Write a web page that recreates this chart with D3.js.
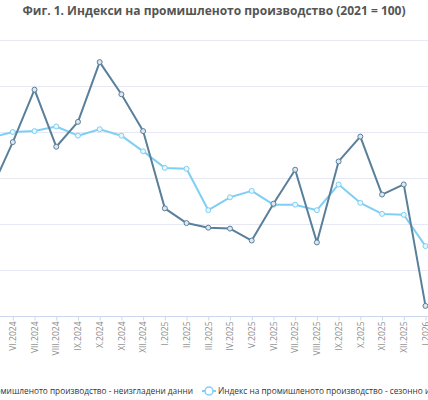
<!DOCTYPE html>
<html>
<head>
<meta charset="utf-8">
<script src="https://cdn.jsdelivr.net/npm/d3@7"></script>
<style>
  body { margin: 0; background: #fff; overflow: hidden; }
  svg { display: block; font-family: "Open Sans", sans-serif; }
</style>
</head>
<body>
<svg id="canvas"></svg>
<script>
let months = ["V.2024","VI.2024","VII.2024","VIII.2024","IX.2024","X.2024","XI.2024","XII.2024",
              "I.2025","II.2025","III.2025","IV.2025","V.2025","VI.2025","VII.2025","VIII.2025",
              "IX.2025","X.2025","XI.2025","XII.2025","I.2026"];

let rawIndex = [83.7,88.9,94.6,88.4,91.1,97.6,94.1,90.1,
                81.7,80.1,79.6,79.5,78.2,82.2,85.9,78.0,
                86.8,89.5,83.2,84.3,71.1];

let adjIndex = [89.4,90.0,90.1,90.6,89.6,90.3,89.6,87.9,
                86.1,86.0,81.5,82.9,83.6,82.1,82.1,81.5,
                84.3,82.3,81.1,81.0,77.6];

let yTicks = [70,75,80,85,90,95,100];

let seriesNames = ["Индекс на промишленото производство - неизгладени данни",
                   "Индекс на промишленото производство - сезонно изгладени данни"];

let width = 428;
let height = 400;
let plotTop = 40;
let plotBottom = 316;

let canvas = d3.select("#canvas")
    .attr("width", width)
    .attr("height", height);

let step = 21.72;
let xScale = d3.scalePoint()
    .domain(months)
    .range([12.8 - step, 12.8 + 19 * step]);

let yScale = d3.scaleLinear()
    .domain([70, 100])
    .range([plotBottom, plotTop]);

// title
canvas.append("text")
    .attr("x", 214)
    .attr("y", 15)
    .attr("text-anchor", "middle")
    .attr("font-size", 12)
    .attr("font-weight", "bold")
    .attr("fill", "#555")
    .text("Фиг. 1. Индекси на промишленото производство (2021 = 100)");

// grid
canvas.append("g")
    .selectAll("line")
    .data(yTicks.filter(d => d > 70))
    .enter()
    .append("line")
    .attr("x1", 0)
    .attr("x2", width)
    .attr("y1", d => yScale(d) + 0.5)
    .attr("y2", d => yScale(d) + 0.5)
    .attr("stroke", "#e6e9f3")
    .attr("stroke-width", 1);

// x axis
let xAxis = d3.axisBottom(xScale).tickSize(4).tickSizeOuter(0);
let gx = canvas.append("g")
    .attr("transform", "translate(0," + (plotBottom + 0.5) + ")")
    .call(xAxis);
gx.select(".domain").remove();
gx.append("line")
    .attr("x1", 0)
    .attr("x2", width)
    .attr("stroke", "#ccd6eb");
gx.selectAll(".tick line").attr("stroke", "#ccd6eb");
gx.selectAll(".tick text")
    .attr("transform", "rotate(-90)")
    .attr("text-anchor", "end")
    .attr("x", -5)
    .attr("y", 0)
    .attr("dy", "0.32em")
    .attr("font-size", 8.5)
    .attr("font-family", "Open Sans, sans-serif")
    .attr("fill", "#8a8a8a");

let drawSeries = (values, color, markerFill) => {
    let line = d3.line()
        .x((d, i) => xScale(months[i]))
        .y(d => yScale(d));

    canvas.append("path")
        .datum(values)
        .attr("d", line)
        .attr("fill", "none")
        .attr("stroke", color)
        .attr("stroke-width", 2)
        .attr("stroke-linejoin", "round");

    canvas.append("g")
        .selectAll("circle")
        .data(values)
        .enter()
        .append("circle")
        .attr("cx", (d, i) => xScale(months[i]))
        .attr("cy", d => yScale(d))
        .attr("r", 2.5)
        .attr("fill", markerFill)
        .attr("stroke", color)
        .attr("stroke-width", 1);
};

drawSeries(adjIndex, "#7fcff5", "#e8f6fd");
drawSeries(rawIndex, "#5a7f9a", "#dfe7ee");

// legend
let legendY = 391;
canvas.append("text")
    .attr("x", 193)
    .attr("y", legendY)
    .attr("dy", "0.32em")
    .attr("text-anchor", "end")
    .attr("font-size", 8.3)
    .attr("fill", "#333")
    .text(seriesNames[0]);

canvas.append("line")
    .attr("x1", 202)
    .attr("x2", 216)
    .attr("y1", legendY)
    .attr("y2", legendY)
    .attr("stroke", "#7fcff5")
    .attr("stroke-width", 2);
canvas.append("circle")
    .attr("cx", 209)
    .attr("cy", legendY)
    .attr("r", 4)
    .attr("fill", "#fff")
    .attr("stroke", "#7fcff5")
    .attr("stroke-width", 1.5);

canvas.append("text")
    .attr("x", 218)
    .attr("y", legendY)
    .attr("dy", "0.32em")
    .attr("font-size", 8.3)
    .attr("fill", "#333")
    .text(seriesNames[1]);
</script>
</body>
</html>
